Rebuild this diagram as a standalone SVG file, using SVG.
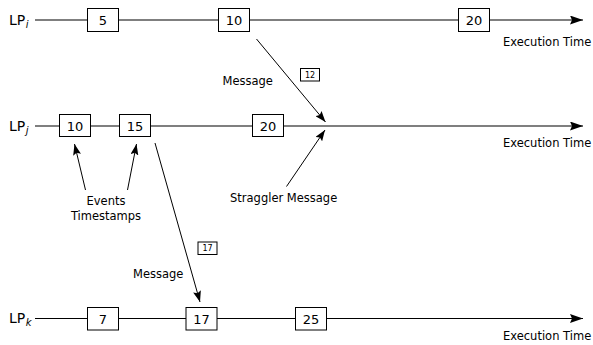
<svg xmlns="http://www.w3.org/2000/svg" width="593" height="345" viewBox="0 0 593 345">
<style>
text{font-family:"DejaVu Sans","Liberation Sans",sans-serif;fill:#000}
.lbl{font-size:11.5px}
.num{font-size:13px;text-anchor:middle}
.sm{font-size:8px;text-anchor:middle}
.lp{font-size:14px}
.sub{font-size:10px;font-style:italic}
.box{fill:#fff;stroke:#000;stroke-width:1}
.tl{stroke:#000;stroke-width:1.2;fill:none}
.ar{stroke:#000;stroke-width:1;fill:none}
</style>
<defs>
<marker id="big" markerUnits="userSpaceOnUse" markerWidth="13" markerHeight="9" refX="13" refY="4.5" orient="auto"><path d="M0,0 L13,4.5 L0,9 L2,4.5 z" fill="#000"/></marker>
<marker id="head" markerUnits="userSpaceOnUse" markerWidth="11" markerHeight="8" refX="11" refY="4" orient="auto"><path d="M0,0 L11,4 L0,8 L2,4 z" fill="#000"/></marker>
</defs>
<rect width="593" height="345" fill="#fff"/>
<g id="connectors">
<line class="tl" x1="35" y1="20" x2="583" y2="20" marker-end="url(#big)"/>
<line class="tl" x1="35" y1="126" x2="583" y2="126" marker-end="url(#big)"/>
<line class="tl" x1="35" y1="318.5" x2="583" y2="318.5" marker-end="url(#big)"/>
<line class="ar" x1="256.5" y1="39" x2="325.5" y2="122" marker-end="url(#head)"/>
<line class="ar" x1="286.5" y1="186.5" x2="325" y2="130" marker-end="url(#head)"/>
<line class="ar" x1="85.5" y1="190" x2="74.5" y2="144" marker-end="url(#head)"/>
<line class="ar" x1="127.5" y1="190" x2="136.5" y2="144" marker-end="url(#head)"/>
<line class="ar" x1="155" y1="143" x2="200" y2="302" marker-end="url(#head)"/>
</g>
<g id="lp-i">
<text class="lp" x="9" y="25">LP<tspan class="sub" dx="0.5" dy="3">i</tspan></text>
<text class="lbl" x="503" y="46">Execution Time</text>
</g>
<g id="lp-j">
<text class="lp" x="9" y="131">LP<tspan class="sub" dx="0.5" dy="3">j</tspan></text>
<text class="lbl" x="503" y="147">Execution Time</text>
</g>
<g id="lp-k">
<text class="lp" x="9" y="323">LP<tspan class="sub" dx="0.5" dy="3">k</tspan></text>
<text class="lbl" x="503" y="340">Execution Time</text>
</g>
<g id="i5"><rect class="box" x="87.5" y="8.5" width="31" height="23"/><text class="num" x="103" y="25">5</text></g>
<g id="i10"><rect class="box" x="218.5" y="8.5" width="31" height="23"/><text class="num" x="234" y="25">10</text></g>
<g id="i20"><rect class="box" x="458.5" y="8.5" width="31" height="23"/><text class="num" x="474" y="25">20</text></g>
<g id="j10"><rect class="box" x="59.5" y="114.5" width="31" height="22"/><text class="num" x="75" y="130.5">10</text></g>
<g id="j15"><rect class="box" x="119.5" y="114.5" width="31" height="22"/><text class="num" x="135" y="130.5">15</text></g>
<g id="j20"><rect class="box" x="252.5" y="114.5" width="31" height="22"/><text class="num" x="268" y="130.5">20</text></g>
<g id="k7"><rect class="box" x="87.5" y="307.5" width="31" height="22.5"/><text class="num" x="103" y="323.5">7</text></g>
<g id="k17"><rect class="box" x="186" y="307.5" width="31" height="22.5"/><text class="num" x="201.5" y="323.5">17</text></g>
<g id="k25"><rect class="box" x="295.5" y="307.5" width="31" height="22.5"/><text class="num" x="311" y="323.5">25</text></g>
<g id="msg1">
<text class="lbl" x="222.5" y="85">Message</text>
<rect class="box" x="300.5" y="68.5" width="19" height="12.5"/><text class="sm" x="310" y="77.8">12</text>
</g>
<g id="msg2">
<text class="lbl" x="133" y="278">Message</text>
<rect class="box" x="198" y="242" width="19" height="12.5"/><text class="sm" x="207.5" y="251.3">17</text>
</g>
<g id="straggler"><text class="lbl" x="230" y="202">Straggler Message</text></g>
<g id="events">
<text class="lbl" x="106" y="205" text-anchor="middle">Events</text>
<text class="lbl" x="106" y="220" text-anchor="middle">Timestamps</text>
</g>
</svg>
